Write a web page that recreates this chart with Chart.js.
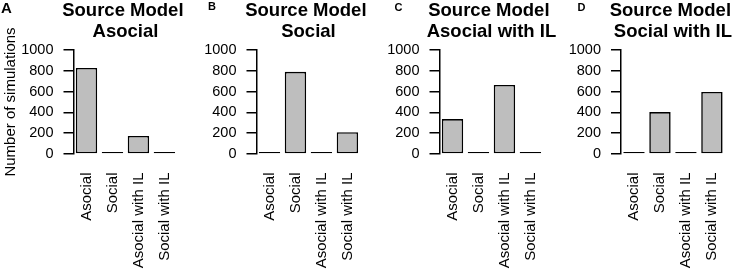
<!DOCTYPE html>
<html><head><meta charset="utf-8">
<script src="https://cdn.jsdelivr.net/npm/chart.js@4.4.1/dist/chart.umd.min.js"></script>
<style>
html,body{margin:0;padding:0;background:#fff;overflow:hidden;width:737px;height:275px;position:relative}
canvas{position:absolute;top:0}
.lab{position:absolute;font-family:"Liberation Sans",Arial,sans-serif;font-weight:bold;color:#000;line-height:1;white-space:nowrap}
</style></head><body>
<canvas id="c0"></canvas><canvas id="c1"></canvas><canvas id="c2"></canvas><canvas id="c3"></canvas>
<div class="lab" id="L0" style="left:1px;top:0px;font-size:15px"></div>
<div class="lab" id="L1" style="left:208px;top:1.4px;font-size:11px"></div>
<div class="lab" id="L2" style="left:394.5px;top:1.6px;font-size:11px"></div>
<div class="lab" id="L3" style="left:577.5px;top:1.5px;font-size:11px"></div>
<script>
// ---- data ----
const categories = ["Asocial", "Social", "Asocial with IL", "Social with IL"];
const sourceModels = ["Asocial", "Social", "Asocial with IL", "Social with IL"];
const panelLetters = ["A", "B", "C", "D"];
const countsA = [827, 0, 173, 0];
const countsB = [0, 790, 0, 210];
const countsC = [336, 0, 664, 0];
const countsD = [0, 403, 0, 597];
const yTicks = [0, 200, 400, 600, 800, 1000];
const yTitle = "Number of simulations";

// ---- layout ----
const panelCounts = [countsA, countsB, countsC, countsD];
const FONT = '"Liberation Sans", Arial, sans-serif';
const axisX = [73.5, 256.5, 439.5, 621];
const plotW = 103.9;
const CH = 275;
const chartBottom = 154;

panelLetters.forEach((t, i) => { document.getElementById('L' + i).textContent = t; });

panelCounts.forEach((counts, i) => {
  const cv = document.getElementById('c' + i);
  const left = i === 0 ? 0 : Math.floor(axisX[i] - 60);
  const yW = axisX[i] - left;
  const CW = Math.ceil(2 * yW + plotW);
  const padR = CW - (2 * yW + plotW);
  cv.width = CW; cv.height = CH;
  cv.style.left = left + 'px';
  cv.style.width = CW + 'px'; cv.style.height = CH + 'px';
  new Chart(cv, {
    type: 'bar',
    data: {
      labels: categories,
      datasets: [{
        data: counts,
        backgroundColor: c => (c.raw === 0 ? '#000' : '#BEBEBE'),
        borderColor: '#000',
        borderWidth: 1.6,
        borderSkipped: false,
        inflateAmount: 0,
        minBarLength: 2,
        barPercentage: 1,
        categoryPercentage: 0.824,
        clip: false
      }]
    },
    options: {
      responsive: false,
      animation: false,
      devicePixelRatio: 1,
      layout: { padding: { left: 0, right: padR, top: 0, bottom: 0 } },
      plugins: {
        legend: { display: false },
        tooltip: { enabled: false },
        title: {
          display: true,
          fullSize: true,
          text: ['Source Model ', sourceModels[i]],
          color: '#000',
          font: { family: FONT, size: 18.5, weight: 'bold', lineHeight: 1.1135 },
          padding: { top: 0.7, bottom: 8.1 }
        }
      },
      scales: {
        x: {
          type: 'category',
          offset: true,
          grid: { display: false, drawTicks: false },
          border: { display: false },
          ticks: {
            autoSkip: false, minRotation: 90, maxRotation: 90, padding: 18.5,
            color: '#000', font: { family: FONT, size: 15 }
          },
          afterFit: s => { s.height = CH - chartBottom; }
        },
        y: {
          min: yTicks[0],
          max: yTicks[yTicks.length - 1],
          afterBuildTicks: s => { s.ticks = yTicks.map(v => ({ value: v })); },
          ticks: {
            padding: 10, color: '#000', font: { family: FONT, size: 14.5 },
            callback: v => String(v)
          },
          grid: { drawOnChartArea: false, drawTicks: true, tickLength: 10, color: '#000', lineWidth: 1.5 },
          border: { display: true, color: '#000', width: 1.5 },
          title: {
            display: i === 0,
            text: yTitle,
            color: '#000',
            font: { family: FONT, size: 15 },
            padding: { top: 1.5, bottom: 0 }
          },
          afterFit: s => { s.width = yW; }
        },
        yBalance: {
          type: 'linear',
          position: 'right',
          display: true,
          ticks: { display: false },
          grid: { display: false, drawTicks: false },
          border: { display: false },
          afterFit: s => { s.width = yW; }
        }
      }
    }
  });
});
</script>
</body></html>
